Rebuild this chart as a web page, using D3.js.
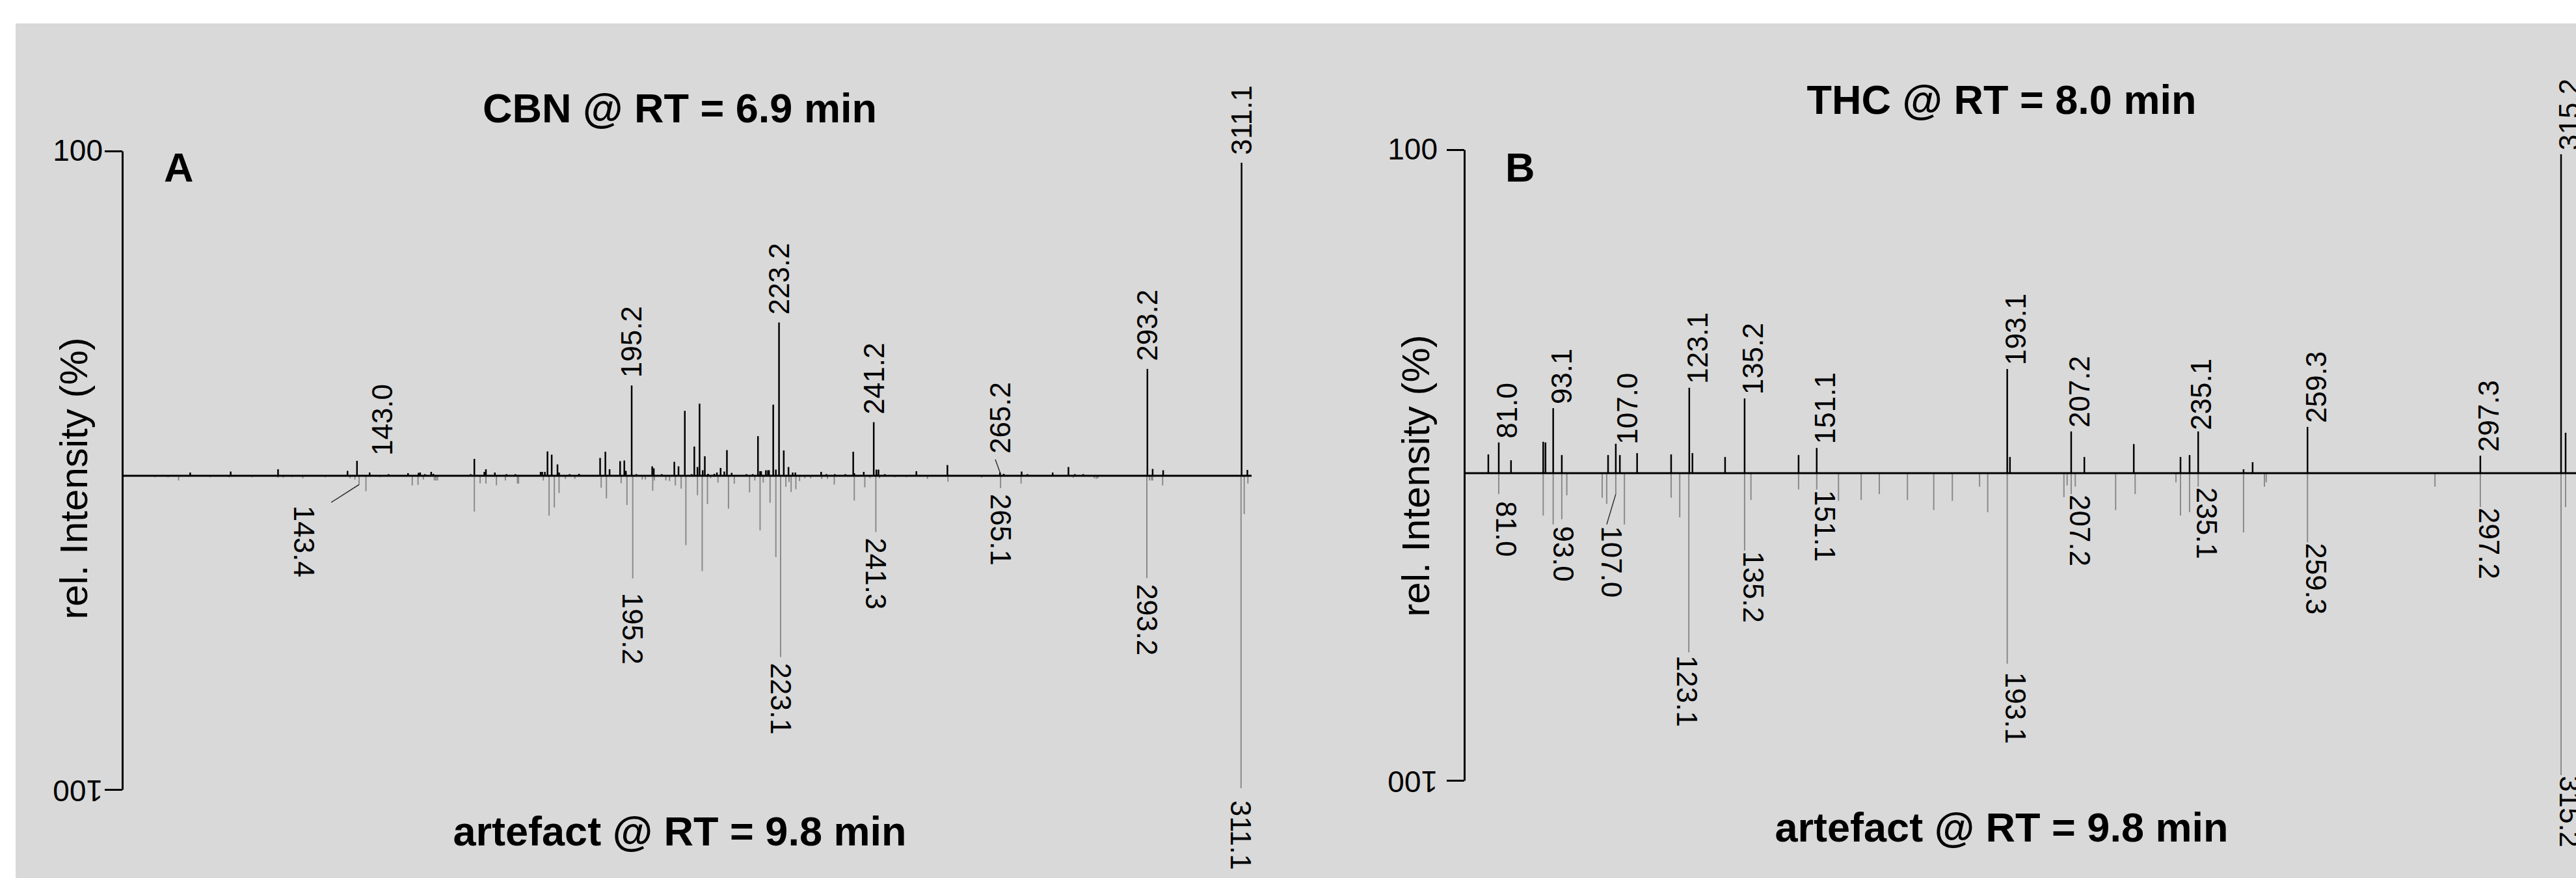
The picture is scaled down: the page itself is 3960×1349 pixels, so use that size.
<!DOCTYPE html>
<html lang="en">
<head>
<meta charset="UTF-8">
<title>CBN / THC vs artefact mass spectra</title>
<script src="https://d3js.org/d3.v7.min.js"></script>
<style>
  body { margin: 0; background: #fff; }
  svg { display: block; font-family: "Liberation Sans", Arial, sans-serif; }
</style>
</head>
<body>
<svg id="chart" width="3960" height="1349"></svg>
<script>
// spectra: [m/z, rel. intensity %]
const cbnPeaks = [
  [111.3,1.0],[119.0,1.3],[128.0,2.0],[141.2,1.5],[143.0,4.6],[145.4,1.0],[149.0,0.5],[152.7,0.8],[154.7,0.9],[155.0,1.0],
  [155.9,0.5],[157.1,1.2],[157.5,0.6],[164.6,0.5],[165.3,5.2],[167.2,1.2],[167.5,2.0],[169.2,1.0],[171.4,0.5],[173.1,0.5],
  [177.9,1.2],[178.2,1.2],[178.7,1.2],[179.2,7.5],[180.0,6.5],[181.1,3.5],[181.4,1.0],[183.4,0.5],[185.2,0.6],[189.2,5.5],
  [190.2,7.4],[191.0,2.0],[193.0,4.5],[193.8,4.7],[194.1,1.5],[195.2,27.8],[196.1,0.5],[199.1,2.9],[199.4,2.3],[200.9,0.5],
  [203.3,4.3],[204.1,2.9],[205.3,20.0],[206.6,0.5],[207.1,9.0],[207.7,2.7],[208.1,22.2],[208.7,1.7],[209.1,6.0],[209.7,0.6],
  [210.9,0.6],[211.4,1.0],[212.1,2.4],[212.8,1.3],[213.3,7.9],[214.2,0.9],[217.0,0.5],[218.2,0.5],[219.2,12.2],[219.6,1.4],
  [219.8,1.4],[220.7,1.7],[221.1,1.7],[221.3,1.7],[222.1,21.9],[222.6,1.9],[223.2,47.2],[224.1,7.8],[225.0,2.7],[225.8,1.0],
  [226.3,1.0],[231.2,1.2],[232.2,0.5],[233.8,0.5],[235.8,0.5],[237.3,7.4],[237.5,0.8],[239.3,1.2],[241.2,16.5],[241.7,1.9],
  [242.1,1.9],[243.3,0.5],[249.3,1.4],[255.2,3.3],[265.2,1.0],[265.9,0.6],[269.3,1.3],[270.4,0.5],[275.2,1.0],[278.2,2.7],
  [279.4,0.5],[281.0,0.5],[293.2,32.9],[294.2,2.1],[296.2,1.7],[311.1,96.4],[312.2,1.8]
];
const artefactPeaksA = [
  [104.6,0.5],[107.1,0.5],[109.1,1.5],[115.1,0.5],[118.7,0.5],[123.0,0.5],[128.0,0.6],[129.0,0.6],[130.6,0.5],[132.7,0.8],
  [137.0,0.5],[141.7,0.8],[142.6,1.2],[143.4,2.8],[144.7,4.9],[147.4,0.5],[153.5,3.1],[154.6,2.9],[155.6,1.2],[157.7,1.5],
  [158.0,1.5],[158.3,1.5],[165.3,11.4],[166.4,2.4],[167.5,2.5],[169.5,3.0],[171.2,1.5],[173.5,2.5],[173.7,2.5],[178.4,1.5],
  [179.5,12.7],[180.5,10.1],[181.4,5.5],[182.6,1.0],[184.4,1.0],[189.4,3.8],[190.4,7.2],[193.2,2.4],[194.3,9.3],[195.4,32.7],
  [197.2,1.2],[197.8,1.2],[199.2,4.8],[199.5,1.5],[201.7,1.5],[202.4,1.7],[203.5,3.1],[204.6,4.1],[205.5,22.1],[207.7,6.2],
  [208.6,30.4],[209.6,9.0],[210.2,0.8],[211.6,2.2],[213.6,10.5],[214.7,2.5],[217.6,5.3],[218.6,1.5],[219.6,17.4],[220.2,2.2],
  [221.5,8.6],[222.6,25.9],[223.5,57.8],[224.5,3.5],[225.1,2.0],[225.5,5.2],[226.4,4.3],[227.1,1.7],[228.1,0.8],[229.2,0.8],
  [231.3,1.0],[232.4,1.0],[233.7,2.8],[237.5,7.9],[239.5,3.7],[240.5,0.8],[241.6,17.9],[242.3,0.8],[245.2,0.5],[247.4,0.5],
  [251.4,1.0],[255.3,1.9],[261.7,0.6],[265.3,3.9],[269.2,2.5],[279.1,0.6],[283.1,0.8],[283.5,1.0],[283.8,0.8],[293.1,32.6],
  [293.6,1.5],[294.0,1.5],[294.2,1.5],[296.1,3.1],[311.0,99.6],[311.6,12.2],[312.3,2.5]
];
const thcPeaks = [
  [78.7,5.8],[81.0,9.5],[83.7,4.0],[90.8,9.7],[91.3,9.5],[93.0,20.1],[94.9,5.6],[105.1,5.6],[106.8,9.1],[107.7,5.6],
  [111.5,6.2],[119.0,5.8],[123.0,26.4],[123.7,6.2],[130.9,5.0],[135.2,23.1],[147.1,5.6],[151.1,7.8],[193.1,32.2],[193.7,5.0],
  [207.2,12.9],[210.1,5.0],[221.0,9.0],[231.3,5.0],[233.3,5.6],[235.2,12.9],[245.2,1.2],[247.2,3.4],[259.3,14.3],[297.4,5.4],
  [315.2,98.6],[316.2,12.5]
];
const artefactPeaksB = [
  [81.0,6.8],[90.8,13.8],[93.0,16.7],[94.9,15.0],[96.0,7.2],[103.8,8.0],[104.8,10.0],[106.8,6.8],[108.7,16.7],[119.0,8.0],
  [120.9,14.4],[122.9,58.3],[135.2,25.2],[136.6,8.7],[147.1,5.3],[151.1,5.3],[155.9,9.0],[160.9,8.7],[164.9,6.8],[171.1,8.7],
  [176.9,12.0],[181.0,9.0],[187.0,4.4],[188.8,12.7],[193.1,62.0],[205.6,7.8],[206.3,4.0],[207.2,6.8],[208.1,4.4],[217.0,12.0],
  [221.3,6.8],[230.3,3.0],[231.3,13.8],[233.3,12.7],[235.2,4.4],[245.2,19.3],[249.8,4.4],[250.2,3.0],[259.3,22.5],[287.4,4.4],
  [297.4,11.0],[315.2,98.3],[316.2,11.0]
];

// annotated peaks: [m/z of the peak, printed label]
const cbnLabels = [[143.0,"143.0"],[195.2,"195.2"],[223.2,"223.2"],[241.2,"241.2"],[265.2,"265.2"],[293.2,"293.2"],[311.1,"311.1"]];
const artefactLabelsA = [[143.4,"143.4"],[195.4,"195.2"],[223.5,"223.1"],[241.6,"241.3"],[265.3,"265.1"],[293.1,"293.2"],[311.0,"311.1"]];
const thcLabels = [[81.0,"81.0"],[93.0,"93.1"],[106.8,"107.0"],[123.0,"123.1"],[135.2,"135.2"],[151.1,"151.1"],
  [193.1,"193.1"],[207.2,"207.2"],[235.2,"235.1"],[259.3,"259.3"],[297.4,"297.3"],[315.2,"315.2"]];
const artefactLabelsB = [[81.0,"81.0"],[93.0,"93.0"],[106.8,"107.0"],[122.9,"123.1"],[135.2,"135.2"],[151.1,"151.1"],
  [193.1,"193.1"],[207.2,"207.2"],[235.2,"235.1"],[259.3,"259.3"],[297.4,"297.2"],[315.2,"315.2"]];

const axisTickLabels = ["100", "100"];
const titlesTop = ["CBN @ RT = 6.9 min", "THC @ RT = 8.0 min"];
const titlesBottom = ["artefact @ RT = 9.8 min", "artefact @ RT = 9.8 min"];
const panelLetters = ["A", "B"];

// labels that were moved off their peak in the figure (m/z, intensity where text starts; optional leader end)
const moved = {
  "A-up-143.0": { at: [147.8, 6.2] },
  "A-up-265.2": { at: [265.2, 6.8], lead: [264.3, 5.0] },
  "A-dn-143.4": { at: [133.0, 9.5], lead: [138.1, 8.5] },
  "A-dn-195.2": { at: [195.4, 37.3] },
  "A-dn-311.1": { at: [311.0, 103.5] },
  "B-up-107.0": { at: [109.3, 8.9] },
  "B-up-235.1": { at: [235.9, 13.3] },
  "B-dn-81.0":  { at: [82.7, 9.1] },
  "B-dn-93.0":  { at: [95.2, 17.2] },
  "B-dn-107.0": { at: [105.8, 17.2], lead: [104.8, 16.7] },
  "B-dn-123.1": { at: [122.5, 59.3] },
  "B-dn-193.1": { at: [195.0, 64.8] }
};

const W = 3960, H = 1349;
const svg = d3.select("#chart");

svg.append("rect")
  .attr("x", 24).attr("y", 36)
  .attr("width", W - 24).attr("height", H - 36)
  .attr("fill", "#d9d9d9");

const panels = [
  { up: cbnPeaks, dn: artefactPeaksA, upLab: cbnLabels, dnLab: artefactLabelsA,
    domain: [98.4, 313.0], x0: 188, x1: 1924, yTop: 232, y0: 731, yBot: 1213,
    titleX: 1045, titleTopY: 188, titleBotY: 1299, letterX: 252, letterY: 279,
    tickPad: 3, shift: 0, gapUp: 12, gapDn: 9 },
  { up: thcPeaks, dn: artefactPeaksB, upLab: thcLabels, dnLab: artefactLabelsB,
    domain: [73.4, 320], x0: 2251, x1: 3970.5, yTop: 230, y0: 727, yBot: 1199,
    titleX: 3077, titleTopY: 175, titleBotY: 1293, letterX: 2314, letterY: 279,
    tickPad: 14, shift: 13, gapUp: 6, gapDn: 1 }
];

panels.forEach((p, pi) => {
  const letter = panelLetters[pi];
  const x = d3.scaleLinear().domain(p.domain).range([p.x0, p.x1]);
  const yUp = d3.scaleLinear().domain([0, 100]).range([p.y0, p.yTop]);
  const yDn = d3.scaleLinear().domain([0, 100]).range([p.y0, p.yBot]);
  const g = svg.append("g");

  // artefact spectrum (grey, pointing down)
  g.append("g").selectAll("line")
    .data(p.dn)
    .join("line")
    .attr("x1", d => x(d[0])).attr("x2", d => x(d[0]))
    .attr("y1", yDn(0)).attr("y2", d => yDn(d[1]))
    .attr("stroke", "#8a8a8a").attr("stroke-width", 2);

  // reference spectrum (black, pointing up)
  g.append("g").selectAll("line")
    .data(p.up)
    .join("line")
    .attr("x1", d => x(d[0])).attr("x2", d => x(d[0]))
    .attr("y1", yUp(0)).attr("y2", d => yUp(d[1]))
    .attr("stroke", "#000").attr("stroke-width", 2.5);

  // zero line
  g.append("line")
    .attr("x1", p.x0).attr("x2", p.x1)
    .attr("y1", p.y0).attr("y2", p.y0)
    .attr("stroke", "#000").attr("stroke-width", 3);

  // mirrored y axis: -100 (artefact) .. 100 (reference)
  const yAxisScale = d3.scaleLinear().domain([-100, 0, 100]).range([p.yBot, p.y0, p.yTop]);
  const ax = g.append("g")
    .attr("transform", `translate(${p.x0},0)`)
    .call(d3.axisLeft(yAxisScale)
      .tickValues([-100, 100])
      .tickSize(27).tickSizeOuter(0)
      .tickPadding(p.tickPad)
      .tickFormat((d, i) => axisTickLabels[i]));
  ax.attr("font-family", null).attr("font-size", 46);
  ax.select(".domain").attr("stroke-width", 3);
  ax.selectAll(".tick line").attr("stroke-width", 3);
  ax.selectAll(".tick text").attr("fill", "#000");
  ax.selectAll(".tick").filter(d => d < 0).select("text")
    .attr("text-anchor", "start")
    .attr("transform", function () { return `rotate(180,${this.getAttribute("x")},0)`; });

  // y axis title
  g.append("text")
    .attr("transform", `translate(${p.x0 - 54},${p.y0 + 4}) rotate(-90)`)
    .attr("text-anchor", "middle")
    .attr("font-size", 60)
    .text("rel. Intensity (%)");

  // titles and panel letter
  g.append("text").attr("x", p.titleX).attr("y", p.titleTopY)
    .attr("text-anchor", "middle").attr("font-size", 63).attr("font-weight", "bold")
    .text(titlesTop[pi]);
  g.append("text").attr("x", p.titleX).attr("y", p.titleBotY)
    .attr("text-anchor", "middle").attr("font-size", 63).attr("font-weight", "bold")
    .text(titlesBottom[pi]);
  g.append("text").attr("x", p.letterX).attr("y", p.letterY)
    .attr("font-size", 63).attr("font-weight", "bold")
    .text(letter);

  // peak labels
  const drawLabels = (list, peaks, y, side) => {
    list.forEach(([mz, text]) => {
      const pk = peaks[d3.minIndex(peaks, d => Math.abs(d[0] - mz))];
      const px = x(pk[0]), py = y(pk[1]);
      const o = moved[`${letter}-${side}-${text}`];
      let lx, ly;
      if (o) {
        lx = x(o.at[0]); ly = y(o.at[1]);
        if (o.lead) {
          g.append("line")
            .attr("x1", px).attr("y1", py)
            .attr("x2", x(o.lead[0])).attr("y2", y(o.lead[1]))
            .attr("stroke", "#333").attr("stroke-width", 1.5);
        }
      } else {
        lx = px + p.shift;
        ly = side === "up" ? py - p.gapUp : py + p.gapDn;
      }
      g.append("text")
        .attr("transform", `translate(${lx},${ly}) rotate(${side === "up" ? -90 : 90})`)
        .attr("dy", "0.35em")
        .attr("font-size", 44)
        .text(text);
    });
  };
  drawLabels(p.upLab, p.up, yUp, "up");
  drawLabels(p.dnLab, p.dn, yDn, "dn");
});
</script>
</body>
</html>
